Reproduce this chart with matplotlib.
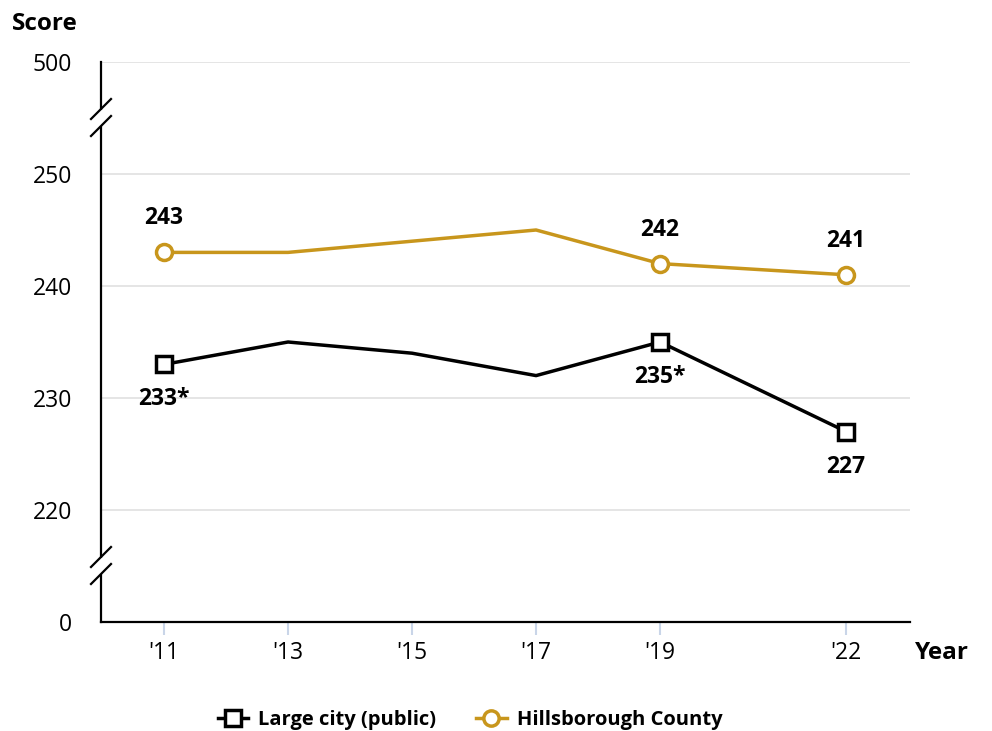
import matplotlib.pyplot as plt
from matplotlib.lines import Line2D
from matplotlib.patches import Rectangle

plt.rcParams['font.family'] = ['Open Sans', 'DejaVu Sans']

years = [2011, 2013, 2015, 2017, 2019, 2022]
year_labels = ["'11", "'13", "'15", "'17", "'19", "'22"]
large_city = [233, 235, 234, 232, 235, 227]
hillsborough = [243, 243, 244, 245, 242, 241]

# which years carry a marker + label
marked = [2011, 2019, 2022]
large_labels = {2011: '233*', 2019: '235*', 2022: '227'}
hills_labels = {2011: '243', 2019: '242', 2022: '241'}

# broken axis: 500 drawn one step above 250, 0 one step below 220
yticks = [210, 220, 230, 240, 250, 260]
ytick_labels = ['0', '220', '230', '240', '250', '500']

black = '#000000'
gold = '#C8961C'

fig = plt.figure(figsize=(9.92, 7.31), dpi=100)
ax = fig.add_axes([101/992, 109/731, 809/992, 560/731])

ax.set_xlim(2009.984, 2023.03)
ax.set_ylim(210, 260)

for y in yticks[1:]:
    ax.axhline(y, color='#e3e3e3', lw=1.3, zorder=0)

mk_idx = [years.index(y) for y in marked]

ax.plot(years, large_city, color=black, lw=2.5, zorder=3)
ax.plot([years[i] for i in mk_idx], [large_city[i] for i in mk_idx], ls='none',
        marker='s', ms=11.5, mfc='white', mec=black, mew=2.5, zorder=4)
ax.plot(years, hillsborough, color=gold, lw=2.5, zorder=3)
ax.plot([years[i] for i in mk_idx], [hillsborough[i] for i in mk_idx], ls='none',
        marker='o', ms=11.5, mfc='white', mec=gold, mew=2.5, zorder=4)

for i in mk_idx:
    yr = years[i]
    ax.annotate(hills_labels[yr], (yr, hillsborough[i]), xytext=(0, 34),
                textcoords='offset pixels', ha='center', va='center',
                fontsize=16.5, fontweight='bold')
    ax.annotate(large_labels[yr], (yr, large_city[i]), xytext=(0, -35),
                textcoords='offset pixels', ha='center', va='center',
                fontsize=16.5, fontweight='bold')

ax.set_xticks(years)
ax.set_xticklabels(year_labels, fontsize=16.5)
ax.set_yticks(yticks)
ax.set_yticklabels(ytick_labels, fontsize=16.5)
ax.tick_params(axis='y', length=0, pad=21)
ax.tick_params(axis='x', length=9, width=1.5, color='#c9d5e8', pad=5)

for s in ['top', 'right']:
    ax.spines[s].set_visible(False)
for s in ['left', 'bottom']:
    ax.spines[s].set_linewidth(1.6)
    ax.spines[s].set_color(black)

# break marks on the y axis
fig.canvas.draw()
for yb in [255, 215]:
    px, py = ax.transData.transform((ax.get_xlim()[0], yb))
    fig.patches.append(Rectangle((px - 4, py - 8), 8, 16, transform=None,
                                 facecolor='white', edgecolor='none', zorder=5))
    for off in [9, -8]:
        fig.lines.append(Line2D([px - 10, px + 10], [py + off - 10, py + off + 10],
                                transform=None, color=black, lw=1.6, zorder=6))

fig.text(12/992, 1 - 24/731, 'Score', fontsize=17.5, fontweight='bold', va='center', ha='left')
fig.text(915/992, 1 - 653/731, 'Year', fontsize=17.5, fontweight='bold', va='center', ha='left')

handles = [
    Line2D([], [], color=black, lw=2.5, marker='s', ms=11, mfc='white', mec=black, mew=2.5),
    Line2D([], [], color=gold, lw=2.5, marker='o', ms=11, mfc='white', mec=gold, mew=2.5),
]
fig.legend(handles, ['Large city (public)', 'Hillsborough County'], loc='center',
           bbox_to_anchor=(470/992, 1 - 720/731), ncol=2, frameon=False,
           handlelength=1.5, handletextpad=0.5, columnspacing=2.0,
           prop={'weight': 'bold', 'size': 14.5})

fig.savefig('out.png', dpi=100)
